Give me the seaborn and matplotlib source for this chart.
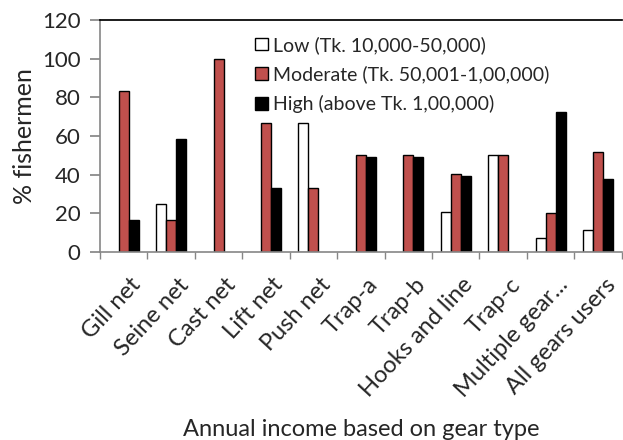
import pandas as pd
import matplotlib.pyplot as plt
import matplotlib.transforms as mtransforms
import seaborn as sns

# Data
gears = ['Gill net', 'Seine net', 'Cast net', 'Lift net', 'Push net', 'Trap-a',
         'Trap-b', 'Hooks and line', 'Trap-c', 'Multiple gear...', 'All gears users']
low = [0, 25, 0, 0, 66.7, 0, 0, 20.5, 50, 7, 11.4]
moderate = [83.3, 16.7, 100, 66.7, 33.3, 50, 50, 40.2, 50, 20, 51.6]
high = [16.7, 58.3, 0, 33.3, 0, 49.3, 49.3, 39.3, 0, 72.6, 37.6]
groups = ['Low (Tk. 10,000-50,000)', 'Moderate (Tk. 50,001-1,00,000)', 'High (above Tk. 1,00,000)']
colors = ['white', '#C0504D', 'black']

sns.set_theme(style="white")
plt.rcParams['font.family'] = ['Lato', 'DejaVu Sans']

rows = []
for g, vals in zip(groups, [low, moderate, high]):
    for gear, v in zip(gears, vals):
        rows.append({'gear': gear, 'group': g, 'pct': v})
df = pd.DataFrame(rows)
df = df[df['pct'] > 0]

fig = plt.figure(figsize=(6.23, 4.4), dpi=100)
ax = fig.add_axes([0.1605, 0.4273, 0.8375, 0.5272])

sns.barplot(data=df, x='gear', y='pct', hue='group', order=gears, hue_order=groups,
            palette=colors, width=0.63, edgecolor='black', linewidth=1.0,
            saturation=1, ax=ax)

ax.set_ylim(0, 120)
ax.set_xlim(-0.5, len(gears) - 0.5)
ax.set_yticks(range(0, 121, 20))
ax.tick_params(axis='y', labelsize=16, length=7, color='#868686', left=True, pad=7)
ax.tick_params(axis='x', which='major', length=0, labelsize=17, pad=16)
ax.set_xticks([i + 0.5 for i in range(-1, len(gears))], minor=True)
ax.tick_params(axis='x', which='minor', length=5, color='#868686', bottom=True, direction='out')
shift = mtransforms.ScaledTranslation(6 / 100, 0, fig.dpi_scale_trans)
for lbl in ax.get_xticklabels():
    lbl.set_rotation(47)
    lbl.set_ha('right')
    lbl.set_rotation_mode('anchor')
    lbl.set_transform(lbl.get_transform() + shift)

for s in ['left', 'bottom']:
    ax.spines[s].set_color('#868686')
    ax.spines[s].set_linewidth(1.2)
ax.spines['top'].set_color('black')
ax.spines['right'].set_visible(False)

ax.set_ylabel('% fishermen', fontsize=18, labelpad=4)
ax.set_xlabel('Annual income based on gear type', fontsize=17, labelpad=13)

leg = ax.legend(loc='upper left', bbox_to_anchor=(0.282, 0.965), frameon=False,
                fontsize=14, handlelength=0.65, handleheight=0.65, handletextpad=0.3,
                labelspacing=0.6, borderaxespad=0)

fig.savefig('out.png', dpi=100)
